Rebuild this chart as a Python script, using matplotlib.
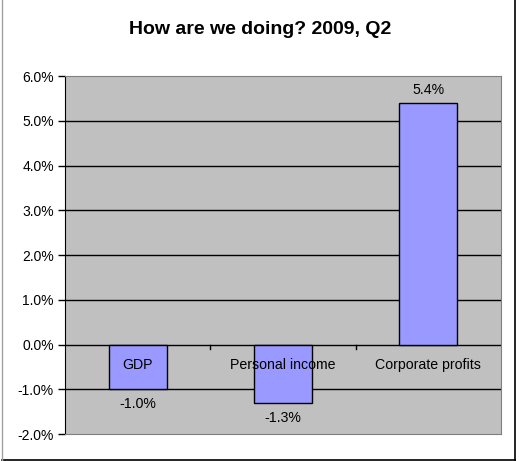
import numpy as np
import matplotlib.pyplot as plt
from matplotlib.lines import Line2D

plt.rcParams['font.family'] = ['Liberation Sans', 'DejaVu Sans']

categories = ['GDP', 'Personal income', 'Corporate profits']
values = [-1.0, -1.3, 5.4]
yticks = [-2, -1, 0, 1, 2, 3, 4, 5, 6]

fig = plt.figure(figsize=(5.19, 4.61), dpi=100)
ax = fig.add_axes([65/519, 27/461, 436/519, 358/461])
ax.set_facecolor('#C0C0C0')

x = np.arange(len(categories))
ax.bar(x, values, width=0.4, color='#9999FF', edgecolor='black', linewidth=1, zorder=3)

ax.set_xlim(-0.5, 2.5)
ax.set_ylim(-2, 6)
ax.set_yticks(yticks)
ax.set_yticklabels([f'{v:.1f}%' for v in yticks], fontsize=10)
for v in yticks[1:-1]:
    ax.axhline(v, color='black', linewidth=1, zorder=2)
ax.tick_params(axis='y', length=5, width=1, color='black', pad=3)
ax.set_xticks([])

# category ticks on the zero line
for b in [0.5, 1.5]:
    ax.plot([b, b], [0, -0.1], color='black', linewidth=1, zorder=2)

for s in ['top', 'right', 'bottom']:
    ax.spines[s].set_color('#808080')
ax.spines['left'].set_color('black')

# category labels just below the zero line
for i, c in enumerate(categories):
    ax.text(i, -0.45, c, ha='center', va='center', fontsize=10.2, zorder=4)

# data labels
for i, v in enumerate(values):
    if v < 0:
        ax.text(i, v - 0.18, f'{v:.1f}%', ha='center', va='top', fontsize=10.2, zorder=4)
    else:
        ax.text(i, v + 0.12, f'{v:.1f}%', ha='center', va='bottom', fontsize=10.2, zorder=4)

fig.text(260/519, 1 - 30/461, 'How are we doing? 2009, Q2', ha='center', va='center',
         fontsize=14, fontweight='bold')

# chart border
fig.add_artist(Line2D([515/519, 515/519], [0.5/461, 1], color='black', linewidth=1.2))
fig.add_artist(Line2D([2/519, 515/519], [0.8/461, 0.8/461], color='black', linewidth=1.2))
fig.add_artist(Line2D([2/519, 2/519], [0, 1], color='#A0A0A0', linewidth=1))

fig.savefig('out.png', dpi=100)
